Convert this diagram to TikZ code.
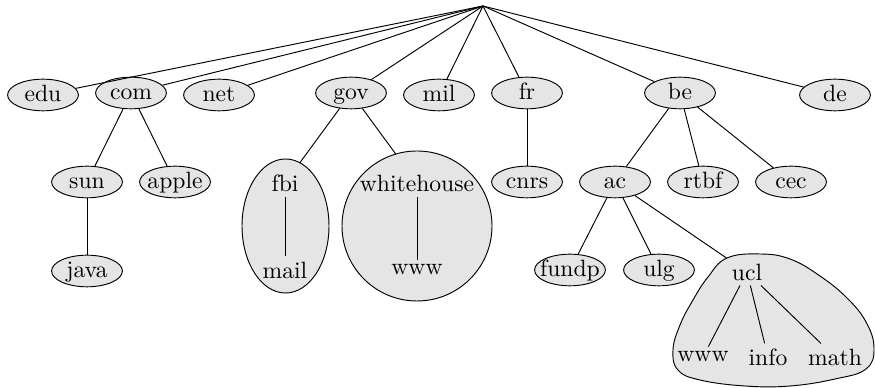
\documentclass[tikz,border=0pt]{standalone}
\usetikzlibrary{shapes.geometric,calc}
\newcommand\zw[1]{\makebox[0pt]{#1}}
\begin{document}
\begin{tikzpicture}[x=0.4237pt,y=-0.4237pt,
  dn/.style={ellipse,draw,fill=black!10,minimum width=30pt,minimum height=13.4pt,inner sep=0pt,text height=1.5ex,text depth=.25ex},
  tn/.style={inner sep=2pt},
  blob/.style={draw,fill=black!10}]
\useasboundingbox (0,0) rectangle (875,388);
% groups
\draw[blob] (285.5,226) ellipse [x radius=18.43pt, y radius=28.39pt];
\draw[blob] (417,226) circle [radius=31.78pt];
\draw[blob] plot[smooth cycle, tension=0.7] coordinates {(727,258) (760,254) (790,259) (820,276) (847,298) (866,322) (874,348) (866,369) (835,379) (790,386) (745,386) (700,380) (678,370) (673,350) (680,325) (693,300) (708,277)};
% nodes
\coordinate (root) at (483,6);
\node[dn] (edu) at (43,95) {\zw{edu}};
\node[dn] (com) at (131,93) {\zw{com}};
\node[dn] (net) at (219,95) {\zw{net}};
\node[dn] (gov) at (351,93) {\zw{gov}};
\node[dn] (mil) at (439,95) {\zw{mil}};
\node[dn] (fr) at (527,93) {\zw{fr}};
\node[dn] (be) at (680,93) {\zw{be}};
\node[dn] (de) at (835,95) {\zw{de}};
\node[dn] (sun) at (87,182) {\zw{sun}};
\node[dn] (apple) at (175,182) {\zw{apple}};
\node[dn] (cnrs) at (527,182) {\zw{cnrs}};
\node[dn] (ac) at (615,182) {\zw{ac}};
\node[dn] (rtbf) at (703,182) {\zw{rtbf}};
\node[dn] (cec) at (791,182) {\zw{cec}};
\node[dn] (java) at (87,271) {\zw{java}};
\node[dn] (fundp) at (570,270) {\zw{fundp}};
\node[dn] (ulg) at (659,270) {\zw{ulg}};
\node[tn] (fbi) at (285,183) {fbi};
\node[tn] (mail) at (285,270) {mail};
\node[tn] (wh) at (417,183) {whitehouse};
\node[tn] (whw) at (417,270) {www};
\node[tn] (ucl) at (747,272) {ucl};
\node[tn] (uclw) at (703,357) {www};
\node[tn] (info) at (768,357) {info};
\node[tn] (math) at (835,357) {math};
\coordinate (fbiend) at ($(gov)!0.775!(fbi)$);
\coordinate (whend) at ($(gov)!0.6785!(wh)$);
\coordinate (uclend) at ($(ac)!0.844!(ucl)$);
% edges
\foreach \n in {edu,com,net,gov,mil,fr,be,de} \draw (root) -- (\n);
\draw (com) -- (sun);
\draw (com) -- (apple);
\draw (sun) -- (java);
\draw (gov) -- (fbiend);
\draw (gov) -- (whend);
\draw (fbi) -- (mail);
\draw (wh) -- (whw);
\draw (fr) -- (cnrs);
\draw (be) -- (ac);
\draw (be) -- (rtbf);
\draw (be) -- (cec);
\draw (ac) -- (fundp);
\draw (ac) -- (ulg);
\draw (ac) -- (uclend);
\draw (ucl) -- (uclw);
\draw (ucl) -- (info);
\draw (ucl) -- (math);
\end{tikzpicture}
\end{document}
